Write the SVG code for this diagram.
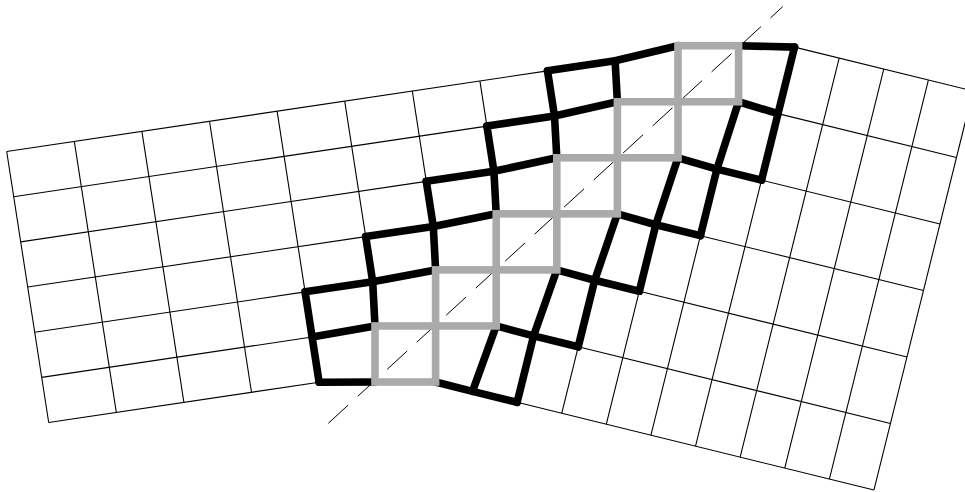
<svg xmlns="http://www.w3.org/2000/svg" width="965" height="492" viewBox="0 0 965 492">
<style>
.thin{fill:none;stroke:#000;stroke-width:1.1}
.blk{fill:none;stroke:#000;stroke-width:7.6;stroke-linejoin:round;stroke-linecap:round}
.gry{fill:none;stroke:#aaaaaa;stroke-width:7.6;stroke-linejoin:miter;stroke-linecap:square}
.axis{fill:none;stroke:#000;stroke-width:1;stroke-dasharray:27 13}
</style>
<rect width="965" height="492" fill="#fff"/>
<g id="left-grid" class="thin">
<path d="M6.7,151.5L547.5,70.86M13.7,196.67L486.9,126.11M20.7,241.84L426.3,181.36M27.7,287.01L365.7,236.61M34.7,332.18L305.1,291.86M41.7,377.35L312.1,337.03M48.7,422.52L319.1,382.2"/>
<path d="M6.7,151.5L48.7,422.52M74.3,141.42L116.3,412.44M141.9,131.34L183.9,402.36M209.5,121.26L251.5,392.28M277.1,111.18L305.1,291.86M344.7,101.1L365.7,236.61M412.3,91.02L426.3,181.36M479.9,80.94L486.9,126.11"/>
</g>
<g id="right-grid" class="thin">
<path d="M794.54,47.14L972.98,90.98M778.04,113.64L956.48,157.48M761.54,180.14L939.98,223.98M700.43,235.68L923.48,290.48M639.32,291.22L906.98,356.98M578.21,346.76L890.48,423.48M517.1,402.3L873.98,489.98"/>
<path d="M972.98,90.98L873.98,489.98M928.37,80.02L829.37,479.02M883.76,69.06L784.76,468.06M839.15,58.1L740.15,457.1M761.54,180.14L695.54,446.14M700.43,235.68L650.93,435.18M639.32,291.22L606.32,424.22M578.21,346.76L561.71,413.26"/>
</g>
<g id="axis">
<path class="axis" d="M328.3,423.3L782.7,6.7"/>
</g>
<g id="left-boundary-cells" class="blk">
<path d="M319.1,382.2L375,382"/>
<path d="M312.1,337.03L375,325.95"/>
<path d="M305.1,291.86L372.7,281.78L435.6,269.9"/>
<path d="M365.7,236.61L433.3,226.53L496.2,213.85"/>
<path d="M426.3,181.36L493.9,171.28L556.8,157.8"/>
<path d="M486.9,126.11L554.5,116.03L617.4,101.75"/>
<path d="M547.5,70.86L615.1,60.78L678,45.7"/>
<path d="M305.1,291.86L312.1,337.03L319.1,382.2"/>
<path d="M365.7,236.61L372.7,281.78L375,325.95"/>
<path d="M426.3,181.36L433.3,226.53L435.6,269.9"/>
<path d="M486.9,126.11L493.9,171.28L496.2,213.85"/>
<path d="M547.5,70.86L554.5,116.03L556.8,157.8"/>
<path d="M615.1,60.78L617.4,101.75"/>
</g>
<g id="right-boundary-cells" class="blk">
<path d="M738.6,45.7L794.54,47.14"/>
<path d="M738.6,101.75L778.04,113.64"/>
<path d="M678,157.8L716.93,169.18L761.54,180.14"/>
<path d="M617.4,213.85L655.82,224.72L700.43,235.68"/>
<path d="M556.8,269.9L594.71,280.26L639.32,291.22"/>
<path d="M496.2,325.95L533.6,335.8L578.21,346.76"/>
<path d="M435.6,382L472.49,391.34L517.1,402.3"/>
<path d="M794.54,47.14L778.04,113.64L761.54,180.14"/>
<path d="M738.6,101.75L716.93,169.18L700.43,235.68"/>
<path d="M678,157.8L655.82,224.72L639.32,291.22"/>
<path d="M617.4,213.85L594.71,280.26L578.21,346.76"/>
<path d="M556.8,269.9L533.6,335.8L517.1,402.3"/>
<path d="M496.2,325.95L472.49,391.34"/>
</g>
<g id="diagonal-squares" class="gry">
<rect x="375" y="325.95" width="60.6" height="56.05"/>
<rect x="435.6" y="269.9" width="60.6" height="56.05"/>
<rect x="496.2" y="213.85" width="60.6" height="56.05"/>
<rect x="556.8" y="157.8" width="60.6" height="56.05"/>
<rect x="617.4" y="101.75" width="60.6" height="56.05"/>
<rect x="678" y="45.7" width="60.6" height="56.05"/>
</g>
</svg>
